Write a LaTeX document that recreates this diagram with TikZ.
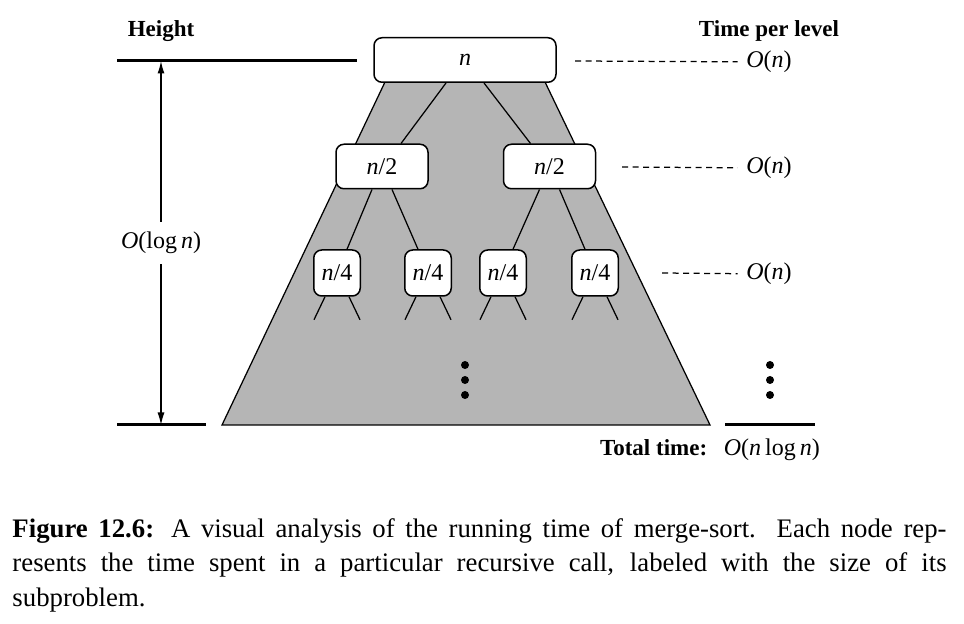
\documentclass[tikz,border=0pt]{standalone}
\usepackage{fontspec}
\setmainfont{Liberation Serif}
\usetikzlibrary{arrows.meta,calc}
\definecolor{treegray}{gray}{0.71}
\newcommand{\mi}[1]{\textit{#1}}

\begin{document}
\begin{tikzpicture}[
	x=0.4pt, y=-0.4pt,
	every node/.style={ font=\fontsize{9.6}{11}\selectfont },
	headtext/.style={ font=\fontsize{9.2}{11}\selectfont\bfseries },
	callbox/.style={ draw, fill=white, rounded corners=3.2pt, line width=0.6pt, inner sep=0pt, minimum height=17.8pt },
	leafbox/.style={ callbox, minimum width=18.6pt, minimum height=18.4pt },
	heavyline/.style={ line width=1.2pt },
	lvldash/.style={ line width=0.5pt, dash pattern=on 2.4pt off 1.8pt },
	treeedge/.style={ line width=0.5pt }
]
\useasboundingbox (0,0) rectangle (964,624);

% shaded recursion tree
\draw[fill=treegray, line width=0.5pt] (385,82) -- (545,82) -- (710,425) -- (222,425) -- cycle;

\node at (465,60) (root) [callbox, minimum width=72.8pt] {\mi{n}};
\node at (382,166.5) (L) [callbox, minimum width=36.8pt] {\mi{n}/2};
\node at (549.5,166.5) (R) [callbox, minimum width=36.8pt] {\mi{n}/2};
\node at (337,273) (q1) [leafbox] {\mi{n}/4};
\node at (428,273) (q2) [leafbox] {\mi{n}/4};
\node at (503,273) (q3) [leafbox] {\mi{n}/4};
\node at (595,273) (q4) [leafbox] {\mi{n}/4};

\draw[treeedge] ($(root.south)+(-19,0)$) -- ($(L.north)+(19,0)$);
\draw[treeedge] ($(root.south)+(19,0)$) -- ($(R.north)+(-19,0)$);
\draw[treeedge] ($(L.south)+(-10,0)$) -- ($(q1.north)+(10,0)$);
\draw[treeedge] ($(L.south)+(10,0)$) -- ($(q2.north)+(-10,0)$);
\draw[treeedge] ($(R.south)+(-10,0)$) -- ($(q3.north)+(10,0)$);
\draw[treeedge] ($(R.south)+(10,0)$) -- ($(q4.north)+(-10,0)$);
\foreach \q in {q1,q2,q3,q4} {
	\draw[treeedge] ($(\q.south)+(-12,0)$) -- ++(-11,23);
	\draw[treeedge] ($(\q.south)+(12,0)$) -- ++(11,23);
}
\foreach \y in {365,380,395} {
	\fill (465,\y) circle (1.6pt);
	\fill (770,\y) circle (1.6pt);
}

% height
\node at (161,31) (hlabel) [headtext] {Height};
\draw[heavyline] (117,61) -- (357,61);
\draw[heavyline] (117,425) -- (206,425);
\coordinate (htop) at (161,61);
\coordinate (hbot) at (161,425);
\draw[treeedge, {Latex[length=5pt,width=2.8pt]}-{Latex[length=5pt,width=2.8pt]}] (hbot) -- node[fill=white, inner xsep=1pt, inner ysep=4pt] (hgt) {\mi{O}(log\,\mi{n})} (htop);

% time per level
\node at (769,31) (tlabel) [headtext] {Time per level};
\node at (769,62) (t0) {\mi{O}(\mi{n})};
\node at (769,168) (t1) {\mi{O}(\mi{n})};
\node at (769,274) (t2) {\mi{O}(\mi{n})};
\coordinate (d0) at (575,61);
\coordinate (d1) at (622,167);
\coordinate (d2) at (662,273);
\draw[lvldash] (d0) -- (t0);
\draw[lvldash] (d1) -- (t1);
\draw[lvldash] (d2) -- (t2);
\draw[heavyline] (725,425) -- (815,425);
\node[headtext, anchor=base east] at (716,456) (tot) {Total time:};
\node[anchor=base west] at (715,456) (totv) {\mi{O}(\mi{n}\,log\,\mi{n})};

% caption
\node[anchor=north west, inner sep=0pt, text width=373.6pt, align=justify, font=\fontsize{10.7}{13.8}\selectfont] at (12,518) (cap) {{\bfseries Figure 12.6:} A visual analysis of the running time of merge-sort. Each node rep-\linebreak resents the time spent in a particular recursive call, labeled with the size of its\linebreak subproblem.};

\end{tikzpicture}
\end{document}
